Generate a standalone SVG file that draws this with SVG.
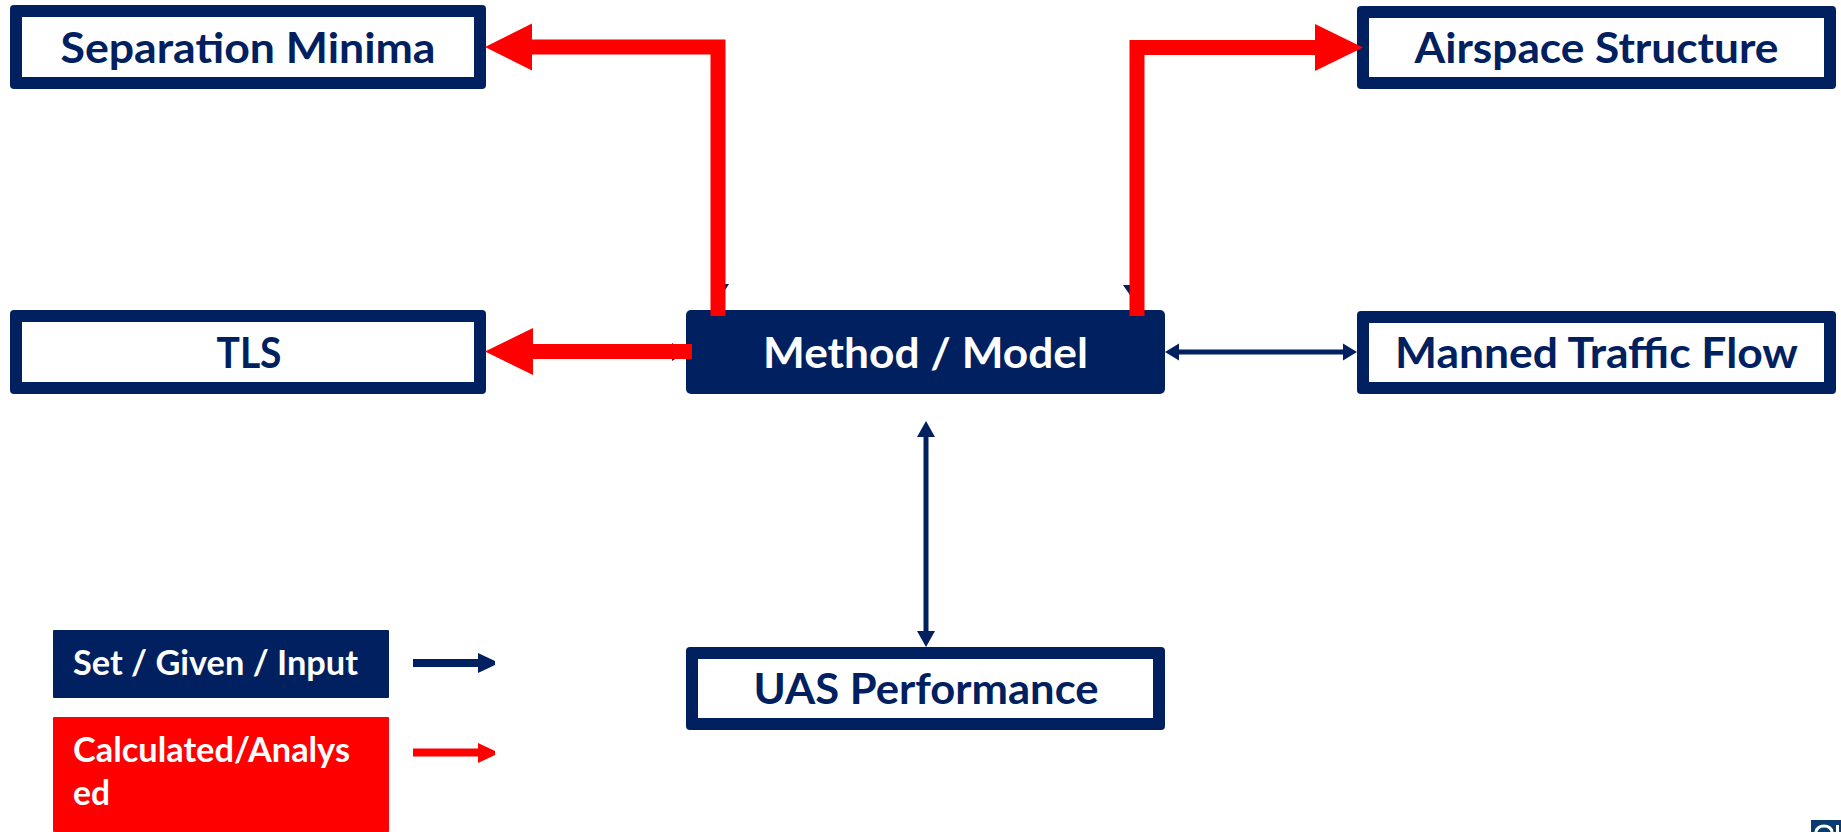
<svg xmlns="http://www.w3.org/2000/svg" width="1841" height="832" viewBox="0 0 1841 832">
  <style>
    .frame { fill: #002060; }
    .inner { fill: #ffffff; }
    .lbl { font-family: Lato, "Open Sans", "Liberation Sans", sans-serif; font-weight: 700; font-size: 42px; fill: #002060; text-anchor: middle; }
    .lbl-w { fill: #ffffff; }
    .leg { font-family: Lato, "Open Sans", "Liberation Sans", sans-serif; font-weight: 700; font-size: 33.5px; fill: #ffffff; }
    .red { fill: none; stroke: #ff0000; stroke-width: 15; stroke-linejoin: miter; }
    .redhead { fill: #ff0000; }
    .navy { fill: none; stroke: #002060; stroke-width: 5; }
    .navyhead { fill: #002060; }
  </style>

  <!-- input arrowheads that sit underneath the red result arrows -->
  <g id="under-connectors">
    <polygon class="navyhead" points="711,284 729,284 720,298"/>
    <polygon class="navyhead" points="1123,285 1141,285 1132,298"/>
    <polygon class="navyhead" points="672,343 672,361 686,352"/>
  </g>

  <!-- nodes -->
  <g id="node-separation-minima">
    <rect class="frame" x="10" y="5" width="476" height="84" rx="4"/>
    <rect class="inner" x="22" y="17" width="452" height="60"/>
    <text class="lbl" x="248" y="62.5" textLength="375" lengthAdjust="spacingAndGlyphs">Separation Minima</text>
  </g>

  <g id="node-airspace-structure">
    <rect class="frame" x="1357" y="6" width="479" height="83" rx="4"/>
    <rect class="inner" x="1369" y="18" width="455" height="59"/>
    <text class="lbl" x="1596.5" y="63" textLength="364" lengthAdjust="spacingAndGlyphs">Airspace Structure</text>
  </g>

  <g id="node-tls">
    <rect class="frame" x="10" y="310" width="476" height="84" rx="4"/>
    <rect class="inner" x="22" y="322" width="452" height="60"/>
    <text class="lbl" x="249" y="367.5" textLength="65" lengthAdjust="spacingAndGlyphs">TLS</text>
  </g>

  <g id="node-method-model">
    <rect class="frame" x="686" y="310" width="479" height="84" rx="5"/>
    <text class="lbl lbl-w" x="925.5" y="367.5" textLength="325" lengthAdjust="spacingAndGlyphs">Method / Model</text>
  </g>

  <g id="node-manned-traffic-flow">
    <rect class="frame" x="1357" y="311" width="479" height="83" rx="4"/>
    <rect class="inner" x="1369" y="323" width="455" height="59"/>
    <text class="lbl" x="1596.5" y="368" textLength="403" lengthAdjust="spacingAndGlyphs">Manned Traffic Flow</text>
  </g>

  <g id="node-uas-performance">
    <rect class="frame" x="686" y="647" width="479" height="83" rx="4"/>
    <rect class="inner" x="698" y="659" width="455" height="59"/>
    <text class="lbl" x="926" y="704" textLength="345" lengthAdjust="spacingAndGlyphs">UAS Performance</text>
  </g>

  <!-- connectors -->
  <g id="connectors">
    <!-- Method / Model -> Separation Minima -->
    <path class="red" d="M718,316 V47 H532"/>
    <polygon class="redhead" points="485,47 532,23.5 532,70.5"/>
    <!-- Method / Model -> Airspace Structure -->
    <path class="red" d="M1137,316 V47.5 H1316"/>
    <polygon class="redhead" points="1363,47.5 1315,24 1315,71"/>
    <!-- Method / Model -> TLS -->
    <path class="red" d="M692,351.5 H532"/>
    <polygon class="redhead" points="485,351.5 533,328 533,375"/>
    <!-- Method / Model <-> Manned Traffic Flow -->
    <line class="navy" x1="1177" y1="352" x2="1345" y2="352"/>
    <polygon class="navyhead" points="1165,352 1179,343.5 1179,360.5"/>
    <polygon class="navyhead" points="1357,352 1343,343.5 1343,360.5"/>
    <!-- Method / Model <-> UAS Performance -->
    <line class="navy" x1="926" y1="434" x2="926" y2="634"/>
    <polygon class="navyhead" points="926,421 917,437 935,437"/>
    <polygon class="navyhead" points="926,647 917,631 935,631"/>
  </g>

  <!-- legend -->
  <g id="legend-input">
    <rect class="frame" x="53" y="630" width="336" height="68" rx="1"/>
    <text class="leg" x="73" y="675" textLength="285" lengthAdjust="spacingAndGlyphs">Set / Given / Input</text>
    <line x1="413" y1="663" x2="480" y2="663" stroke="#002060" stroke-width="8"/>
    <polygon class="navyhead" points="478,653 495,661 495,665 478,673"/>
  </g>

  <g id="legend-calculated">
    <rect x="53" y="717" width="336" height="115" rx="1" fill="#ff0000"/>
    <text class="leg" x="73" y="762" textLength="277" lengthAdjust="spacingAndGlyphs">Calculated/Analys</text>
    <text class="leg" x="73" y="805" textLength="37" lengthAdjust="spacingAndGlyphs">ed</text>
    <line x1="413" y1="752.5" x2="480" y2="752.5" stroke="#ff0000" stroke-width="8"/>
    <polygon class="redhead" points="478,743 495,751 495,755 478,763"/>
  </g>

  <!-- corner logo fragment -->
  <g id="corner-mark">
    <rect x="1811" y="820" width="30" height="12" fill="#0b3a6e"/>
    <path d="M1816,832 A8,6 0 0 1 1832,832" fill="none" stroke="#ffffff" stroke-width="3"/>
    <rect x="1836" y="825" width="3" height="7" fill="#ffffff"/>
  </g>
</svg>
